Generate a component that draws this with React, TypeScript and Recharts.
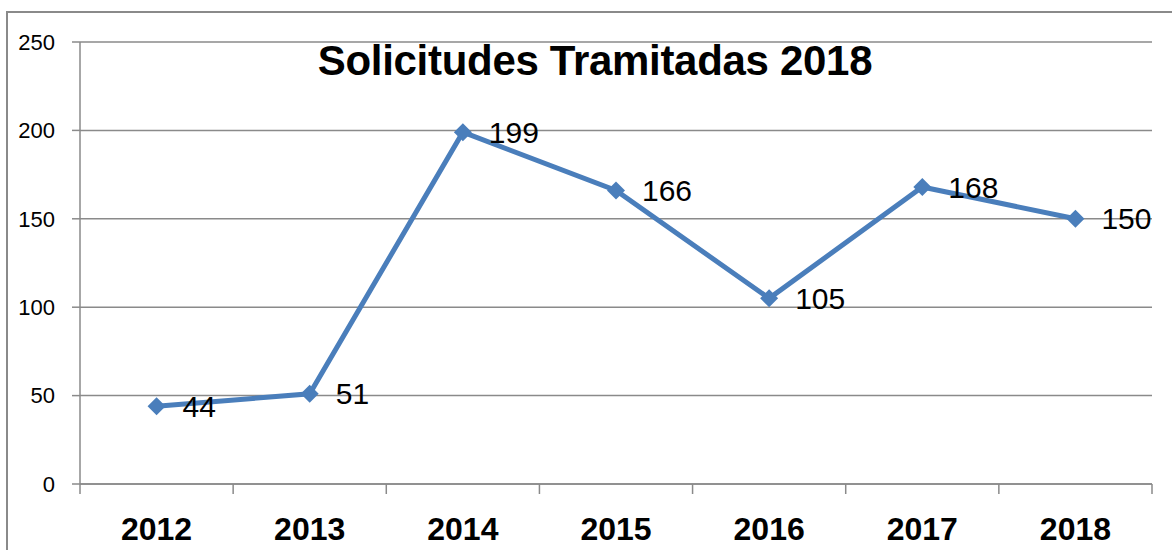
import React from 'react';
import {
  LineChart,
  Line,
  XAxis,
  YAxis,
  CartesianGrid,
  LabelList,
} from 'recharts';

const years = ['2012', '2013', '2014', '2015', '2016', '2017', '2018'];
const solicitudes = [44, 51, 199, 166, 105, 168, 150];
const yTicks = [0, 50, 100, 150, 200, 250];

const data = years.map((year, i) => ({ year, value: solicitudes[i] }));

const BLUE = '#4a7ebb';
const GRAY = '#8a8a8a';

const Diamond = (props: any) => {
  const { cx, cy } = props;
  if (cx == null || cy == null) return null;
  const r = 9;
  return (
    <path
      d={`M${cx},${cy - r} L${cx + r},${cy} L${cx},${cy + r} L${cx - r},${cy} Z`}
      fill={BLUE}
    />
  );
};

// category label plus tick marks on the band edges (Excel style)
const YearTick = (props: any) => {
  const { x, y, payload, index, visibleTicksCount } = props;
  const half = payload?.offset || 1072 / 7 / 2;
  const last = index === visibleTicksCount - 1;
  return (
    <g>
      <line x1={x - half} x2={x - half} y1={y} y2={y + 10} stroke={GRAY} strokeWidth={1.5} />
      {last && (
        <line x1={x + half} x2={x + half} y1={y} y2={y + 10} stroke={GRAY} strokeWidth={1.5} />
      )}
      <text x={x} y={y + 56} textAnchor="middle" fill="#000" fontSize={32} fontWeight="bold">
        {payload.value}
      </text>
    </g>
  );
};

export default function App() {
  return (
    <div
      style={{
        position: 'absolute',
        left: 0,
        top: 0,
        width: 1172,
        height: 550,
        overflow: 'hidden',
        background: '#fff',
        fontFamily: '"Liberation Sans", Arial, sans-serif',
      }}
    >
      <div
        style={{
          position: 'absolute',
          left: 6,
          top: 11,
          width: 1300,
          height: 700,
          borderLeft: `2px solid ${GRAY}`,
          borderTop: `2px solid ${GRAY}`,
        }}
      />
      <LineChart
        width={1172}
        height={550}
        data={data}
        margin={{ top: 42, right: 20, left: 20, bottom: 0 }}
      >
        <CartesianGrid vertical={false} stroke={GRAY} strokeWidth={1.5} />
        <XAxis
          dataKey="year"
          scale="band"
          height={66}
          axisLine={{ stroke: GRAY, strokeWidth: 1.5 }}
          tickLine={false}
          tickSize={0}
          tickMargin={0}
          interval={0}
          tick={<YearTick />}
        />
        <YAxis
          domain={[0, 250]}
          ticks={yTicks}
          width={60}
          tickSize={8}
          tickMargin={17}
          axisLine={{ stroke: GRAY, strokeWidth: 1.5 }}
          tickLine={{ stroke: GRAY, strokeWidth: 1.5 }}
          tick={{ fill: '#000', fontSize: 22 }}
        />
        <Line
          type="linear"
          dataKey="value"
          stroke={BLUE}
          strokeWidth={5}
          dot={<Diamond />}
          activeDot={false}
          isAnimationActive={false}
        >
          <LabelList
            dataKey="value"
            position="right"
            offset={26}
            fill="#000"
            fontSize={30}
          />
        </Line>
      </LineChart>
      <div
        style={{
          position: 'absolute',
          left: 0,
          width: 1190,
          top: 37,
          textAlign: 'center',
          fontSize: 42,
          fontWeight: 'bold',
          letterSpacing: -0.3,
          color: '#000',
        }}
      >
        Solicitudes Tramitadas 2018
      </div>
    </div>
  );
}
